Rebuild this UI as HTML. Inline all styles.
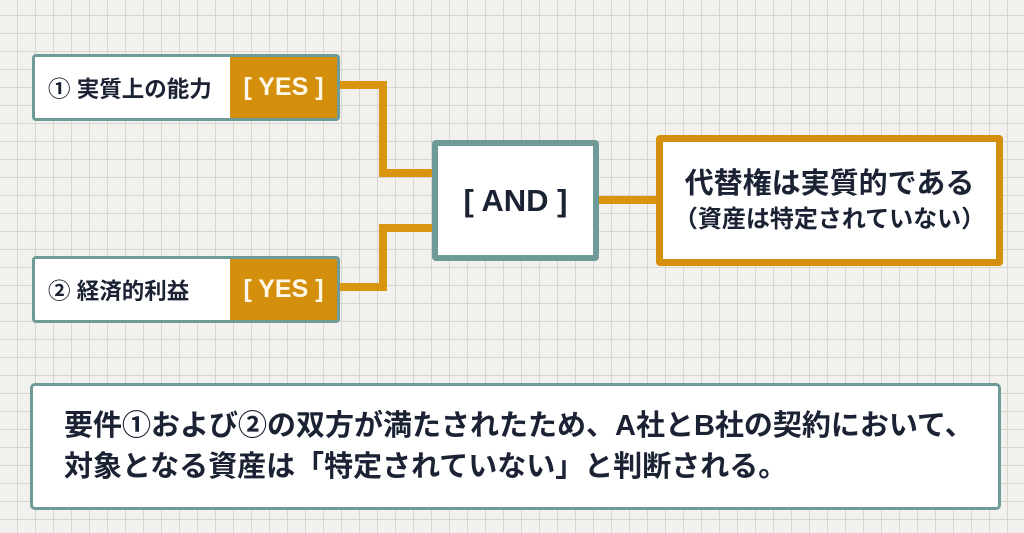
<!DOCTYPE html>
<html><head><meta charset="utf-8"><style>
body{margin:0;width:1024px;height:533px;overflow:hidden;background-color:#f2f1ed;
background-image:linear-gradient(to right,#d6d6d0 1px,transparent 1px),linear-gradient(to bottom,#d6d6d0 1px,transparent 1px);
background-size:18px 18px;background-position:-1px -3px;position:relative;
font-family:"Liberation Sans","Noto Sans CJK JP",sans-serif;color:#1a2233;font-weight:bold}
.a{position:absolute;box-sizing:border-box}
.in{border:3px solid #6e9b98;border-radius:4px;background:#fff;overflow:hidden}
.in .l{position:absolute;left:13px;top:0;bottom:0;display:flex;align-items:center;font-size:22.5px}
.in .y{position:absolute;right:0;top:0;bottom:0;width:107px;background:#d4900c;color:#fff8e8;font-size:25px;display:flex;align-items:center;justify-content:center;font-weight:bold}
.ln{position:absolute;background:#d9950f}
</style></head><body>
<div class="a in" style="left:32px;top:54px;width:308px;height:67px"><div class="l">① 実質上の能力</div><div class="y">[ YES ]</div></div>
<div class="a in" style="left:32px;top:256px;width:308px;height:67px"><div class="l">② 経済的利益</div><div class="y">[ YES ]</div></div>
<div class="ln" style="left:340px;top:81px;width:47px;height:8px"></div>
<div class="ln" style="left:379px;top:81px;width:8px;height:96px"></div>
<div class="ln" style="left:379px;top:169px;width:56px;height:8px"></div>
<div class="ln" style="left:340px;top:283px;width:47px;height:8px"></div>
<div class="ln" style="left:379px;top:224px;width:8px;height:67px"></div>
<div class="ln" style="left:379px;top:224px;width:56px;height:8px"></div>
<div class="ln" style="left:596px;top:196px;width:64px;height:8px"></div>
<div class="a" style="left:432px;top:140px;width:167px;height:121px;border:6px solid #6e9b98;border-radius:4px;background:#fff;display:flex;align-items:center;justify-content:center;font-size:31px">[ AND ]</div>
<div class="a" style="left:656px;top:135px;width:347px;height:131px;border:7px solid #d4900c;border-radius:4px;background:#fff;display:flex;flex-direction:column;align-items:center;justify-content:center">
<div style="font-size:29px;line-height:38px">代替権は実質的である</div>
<div style="font-size:24px;line-height:34px">（資産は特定されていない）</div></div>
<div class="a" style="left:30px;top:383px;width:971px;height:127px;border:3px solid #6e9b98;border-radius:5px;background:#fff;padding:20px 0 0 31px;font-size:29px;line-height:41px;white-space:nowrap">
要件①および②の双方が満たされたため、A社とB社の契約において、<br>対象となる資産は「特定されていない」と判断される。</div>
</body></html>
